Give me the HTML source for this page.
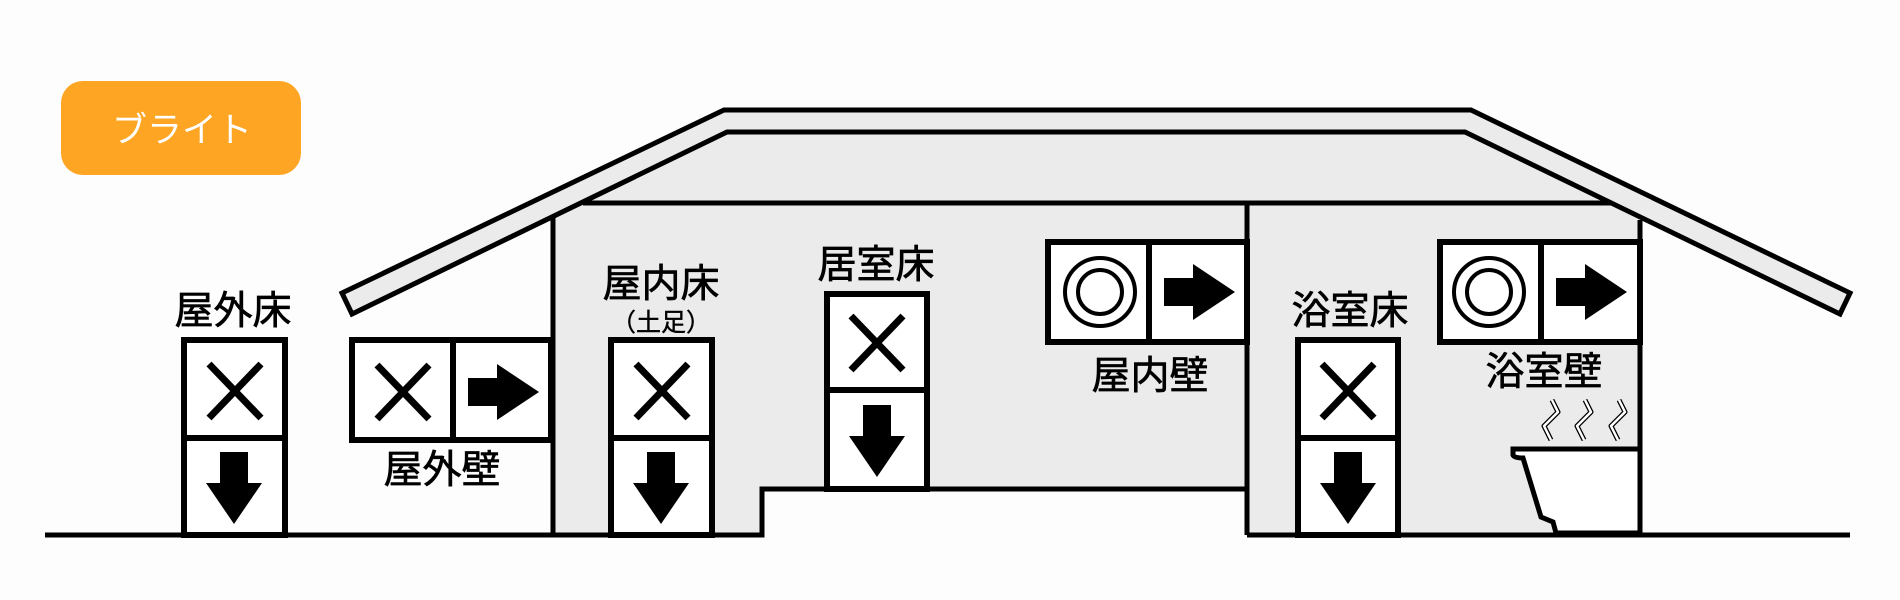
<!DOCTYPE html>
<html><head><meta charset="utf-8"><style>
html,body{margin:0;padding:0;background:#fdfdfd;}
svg{display:block;}
text{font-family:"Liberation Sans","Noto Sans CJK JP",sans-serif;}
</style></head><body>
<svg width="1900" height="600" viewBox="0 0 1900 600" xmlns="http://www.w3.org/2000/svg">
<rect width="1900" height="600" fill="#fdfdfd"/>
<rect x="61" y="81" width="240" height="94" rx="22" fill="#fea623"/>
<text x="182" y="142" font-size="35" fill="#fff" text-anchor="middle">ブライト</text>

<polygon points="553,216 727,132 1465,132 1640,220 1640,535 1247,535 1247,489 762,489 762,535 553,535" fill="#ebebeb"/>
<polygon points="342,293 724,110 1471,110 1850,293 1840,314 1465,132 727,132 352,314" fill="#ebebeb" stroke="#000" stroke-width="5" stroke-linejoin="miter"/>
<line x1="583" y1="203" x2="1611" y2="203" stroke="#000" stroke-width="5"/>
<line x1="553" y1="216" x2="553" y2="535" stroke="#000" stroke-width="5"/>
<line x1="1640" y1="220" x2="1640" y2="535" stroke="#000" stroke-width="5"/>
<line x1="1247" y1="203" x2="1247" y2="535" stroke="#000" stroke-width="5"/>
<polyline points="45,535 762,535 762,489 1247,489" fill="none" stroke="#000" stroke-width="5"/>
<line x1="1247" y1="535" x2="1850" y2="535" stroke="#000" stroke-width="5"/>

<defs>
<g id="x"><line x1="-26" y1="-27" x2="26" y2="27" stroke="#000" stroke-width="7"/><line x1="26" y1="-27" x2="-26" y2="27" stroke="#000" stroke-width="7"/></g>
<g id="down"><polygon points="-14,-36 14,-36 14,-5 28,-5 0,36 -28,-5 -14,-5" fill="#000"/></g>
<g id="right"><polygon points="-35,-14 -6,-14 -6,-28 36,0 -6,28 -6,14 -35,14" fill="#000"/></g>
<g id="dc"><ellipse cx="0" cy="0" rx="35" ry="34" fill="none" stroke="#000" stroke-width="4"/><ellipse cx="0" cy="0" rx="22" ry="22" fill="none" stroke="#000" stroke-width="4"/></g>
</defs>

<g stroke="#000" stroke-width="6" fill="#fff">
<rect x="184" y="340" width="101" height="195"/><line x1="184" y1="438" x2="285" y2="438"/>
<rect x="352" y="340" width="199" height="100"/><line x1="453" y1="340" x2="453" y2="440"/>
<rect x="611" y="340" width="101" height="195"/><line x1="611" y1="438" x2="712" y2="438"/>
<rect x="827" y="294" width="100" height="195"/><line x1="827" y1="390" x2="927" y2="390"/>
<rect x="1048" y="242" width="199" height="100"/><line x1="1149" y1="242" x2="1149" y2="342"/>
<rect x="1298" y="340" width="100" height="195"/><line x1="1298" y1="438" x2="1398" y2="438"/>
<rect x="1440" y="242" width="200" height="100"/><line x1="1541" y1="242" x2="1541" y2="342"/>
</g>

<use href="#x" x="235" y="391"/><use href="#down" x="234" y="488"/>
<use href="#x" x="403" y="392"/><use href="#right" x="503" y="392"/>
<use href="#x" x="662" y="391"/><use href="#down" x="661" y="488"/>
<use href="#x" x="877" y="343"/><use href="#down" x="877" y="441"/>
<use href="#dc" x="1100" y="292"/><use href="#right" x="1199" y="292"/>
<use href="#x" x="1348" y="391"/><use href="#down" x="1348" y="488"/>
<use href="#dc" x="1489" y="292"/><use href="#right" x="1591" y="292"/>

<path d="M1640,449 L1513,449 L1513,455 Q1514,458 1523,458 L1541,517 L1553,522 L1556,533 L1640,533 Z" fill="#fff" stroke="#000" stroke-width="5"/>
<g fill="none" stroke="#000" stroke-width="5" stroke-linejoin="round">
<path d="M1552,400 L1558,412 L1544,426 L1551,440"/>
<path d="M1585,400 L1591,412 L1577,426 L1584,440"/>
<path d="M1619,400 L1625,412 L1611,426 L1618,440"/>
</g>
<g fill="none" stroke="#fff" stroke-width="2.5" stroke-linejoin="round">
<path d="M1552,400 L1558,412 L1544,426 L1551,440"/>
<path d="M1585,400 L1591,412 L1577,426 L1584,440"/>
<path d="M1619,400 L1625,412 L1611,426 L1618,440"/>
</g>

<g font-size="39" fill="#000" text-anchor="middle" stroke="#000" stroke-width="0.7">
<text x="233" y="324">屋外床</text>
<text x="442" y="483">屋外壁</text>
<text x="661" y="297">屋内床</text>
<text x="876" y="278">居室床</text>
<text x="1150" y="389">屋内壁</text>
<text x="1350" y="324">浴室床</text>
<text x="1544" y="385">浴室壁</text>
</g>
<text x="661" y="331" font-size="25" text-anchor="middle" fill="#000" stroke="#000" stroke-width="0.4">（土足）</text>
</svg>
</body></html>
